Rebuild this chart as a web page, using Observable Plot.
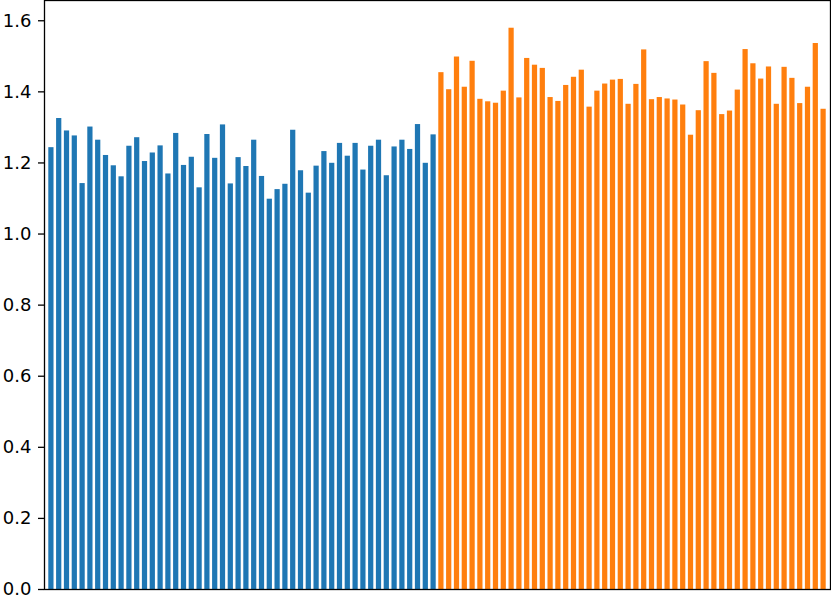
<!DOCTYPE html>
<html>
<head>
<meta charset="utf-8">
<script src="https://cdn.jsdelivr.net/npm/d3@7"></script>
<script src="https://cdn.jsdelivr.net/npm/@observablehq/plot@0.6"></script>
<style>
  html, body { margin: 0; padding: 0; background: #fff; }
  #chart svg { display: block; }
</style>
</head>
<body>
<div id="chart"></div>
<script>
const groupA = [
  1.243, 1.325, 1.290, 1.276, 1.142, 1.301, 1.264, 1.221, 1.192, 1.161,
  1.247, 1.271, 1.204, 1.228, 1.248, 1.169, 1.283, 1.193, 1.216, 1.130,
  1.280, 1.213, 1.307, 1.141, 1.215, 1.190, 1.264, 1.162, 1.098, 1.125,
  1.140, 1.292, 1.178, 1.115, 1.191, 1.232, 1.199, 1.255, 1.219, 1.255,
  1.180, 1.247, 1.264, 1.164, 1.245, 1.264, 1.238, 1.308, 1.199, 1.279
];
const groupB = [
  1.454, 1.406, 1.498, 1.413, 1.486, 1.379, 1.372, 1.368, 1.402, 1.579,
  1.383, 1.494, 1.475, 1.466, 1.384, 1.373, 1.418, 1.441, 1.461, 1.357,
  1.402, 1.422, 1.433, 1.435, 1.365, 1.421, 1.518, 1.378, 1.384, 1.380,
  1.377, 1.363, 1.278, 1.347, 1.485, 1.452, 1.336, 1.346, 1.405, 1.519,
  1.479, 1.436, 1.470, 1.365, 1.469, 1.438, 1.367, 1.413, 1.536, 1.351
];
const groupNames = ["A", "B"];
const groupColors = ["#1f77b4", "#ff7f0e"];
const yTicks = [0, 0.2, 0.4, 0.6, 0.8, 1.0, 1.2, 1.4, 1.6];

const data = [
  ...groupA.map((v, i) => ({idx: i, value: v, group: groupNames[0]})),
  ...groupB.map((v, i) => ({idx: groupA.length + i, value: v, group: groupNames[1]}))
];

const chart = Plot.plot({
  width: 831,
  height: 600,
  marginLeft: 44,
  marginRight: 1,
  marginTop: 0,
  marginBottom: 11,
  style: {fontFamily: "'DejaVu Sans', sans-serif", fontSize: "18px", color: "#000", background: "#fff"},
  x: {type: "band", domain: data.map(d => d.idx), paddingInner: 0.33, paddingOuter: 0.55, axis: null},
  y: {domain: [0, 1.657], ticks: yTicks, tickFormat: d3.format(".1f"), tickSize: 6, tickPadding: 7, label: null},
  color: {domain: groupNames, range: groupColors},
  marks: [
    Plot.barY(data, {x: "idx", y: "value", fill: "group"}),
    Plot.frame({stroke: "#000", strokeWidth: 1.3}),
    Plot.axisY({ticks: yTicks, tickFormat: d3.format(".1f"), tickSize: 6, tickPadding: 7, label: null, stroke: "#000", strokeWidth: 1.3, fontSize: 18})
  ]
});
document.getElementById("chart").appendChild(chart);
</script>
</body>
</html>
